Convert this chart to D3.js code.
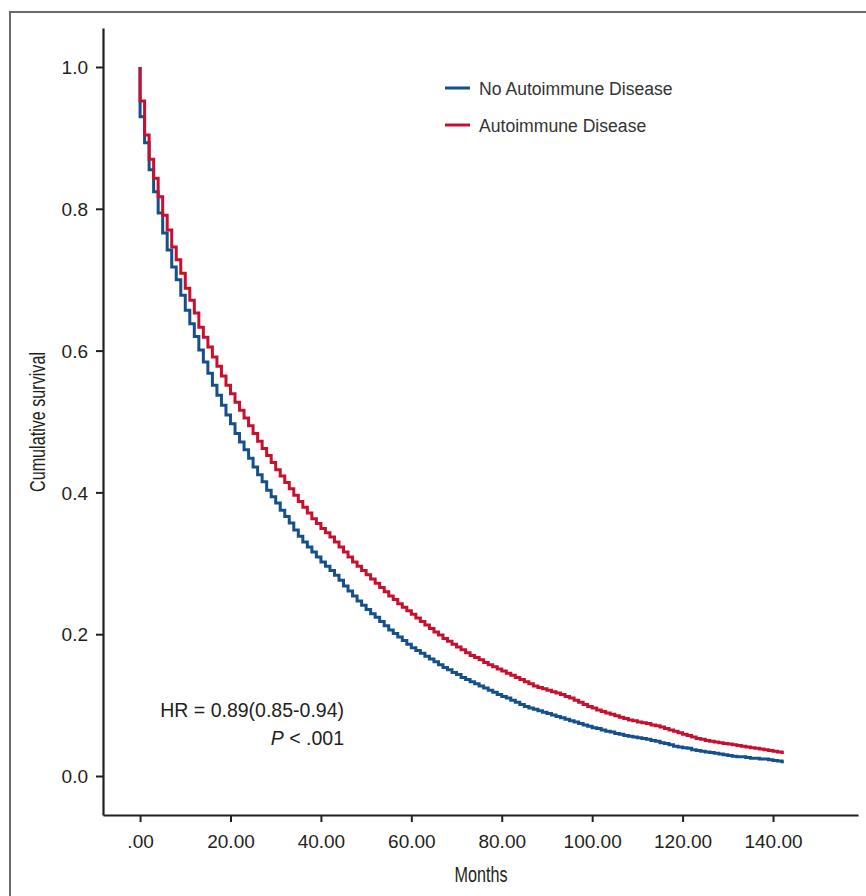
<!DOCTYPE html>
<html>
<head>
<meta charset="utf-8">
<script src="https://cdn.jsdelivr.net/npm/d3@7"></script>
<style>
  html, body { margin: 0; padding: 0; background: #fff; }
  svg { display: block; }
</style>
</head>
<body>
<script>
// ---- Data ----
const seriesNames = ["No Autoimmune Disease", "Autoimmune Disease"];
const seriesColors = ["#15508c", "#c8102e"];
const endMonth = 142.4; // last follow-up time shown

// monthly survival, month 0..142 (value after the step at that month)
const noAutoimmune = [
  0.930, 0.893, 0.855, 0.824, 0.794, 0.766, 0.742, 0.718, 0.700, 0.678,
  0.657, 0.638, 0.620, 0.601, 0.584, 0.568, 0.551, 0.537, 0.523, 0.509,
  0.497, 0.483, 0.471, 0.460, 0.448, 0.436, 0.425, 0.415, 0.403, 0.394,
  0.385, 0.375, 0.366, 0.357, 0.347, 0.338, 0.330, 0.323, 0.316, 0.309,
  0.302, 0.296, 0.290, 0.283, 0.276, 0.268, 0.261, 0.254, 0.247, 0.241,
  0.235, 0.229, 0.224, 0.218, 0.212, 0.206, 0.201, 0.196, 0.191, 0.186,
  0.181, 0.177, 0.173, 0.169, 0.165, 0.161, 0.157, 0.153, 0.150, 0.146,
  0.143, 0.139, 0.136, 0.133, 0.130, 0.127, 0.124, 0.121, 0.118, 0.115,
  0.112, 0.110, 0.107, 0.104, 0.101, 0.098, 0.096, 0.094, 0.092, 0.090,
  0.088, 0.086, 0.084, 0.082, 0.080, 0.078, 0.076, 0.074, 0.072, 0.070,
  0.068, 0.067, 0.065, 0.063, 0.062, 0.060, 0.059, 0.057, 0.056, 0.055,
  0.054, 0.053, 0.052, 0.050, 0.049, 0.047, 0.046, 0.044, 0.042, 0.041,
  0.040, 0.039, 0.037, 0.036, 0.035, 0.034, 0.033, 0.032, 0.031, 0.030,
  0.029, 0.028, 0.027, 0.027, 0.026, 0.025, 0.025, 0.024, 0.024, 0.023,
  0.022, 0.021, 0.020
];
const autoimmune = [
  0.952, 0.904, 0.870, 0.843, 0.817, 0.791, 0.770, 0.746, 0.728, 0.709,
  0.688, 0.671, 0.653, 0.633, 0.619, 0.605, 0.591, 0.578, 0.564, 0.551,
  0.539, 0.527, 0.516, 0.505, 0.494, 0.483, 0.472, 0.462, 0.452, 0.442,
  0.432, 0.423, 0.414, 0.405, 0.396, 0.387, 0.379, 0.371, 0.363, 0.356,
  0.349, 0.343, 0.337, 0.330, 0.323, 0.316, 0.309, 0.302, 0.296, 0.290,
  0.284, 0.278, 0.272, 0.266, 0.260, 0.254, 0.249, 0.243, 0.238, 0.233,
  0.228, 0.223, 0.218, 0.213, 0.208, 0.203, 0.199, 0.194, 0.190, 0.186,
  0.182, 0.178, 0.174, 0.170, 0.167, 0.164, 0.160, 0.157, 0.154, 0.151,
  0.148, 0.145, 0.142, 0.139, 0.136, 0.133, 0.130, 0.127, 0.125, 0.123,
  0.121, 0.119, 0.117, 0.115, 0.112, 0.110, 0.107, 0.104, 0.101, 0.098,
  0.096, 0.093, 0.091, 0.089, 0.087, 0.085, 0.083, 0.081, 0.079, 0.078,
  0.076, 0.075, 0.074, 0.072, 0.071, 0.069, 0.067, 0.065, 0.063, 0.061,
  0.059, 0.057, 0.055, 0.053, 0.052, 0.050, 0.049, 0.048, 0.047, 0.046,
  0.045, 0.044, 0.043, 0.042, 0.041, 0.040, 0.039, 0.038, 0.037, 0.036,
  0.035, 0.034, 0.033
];
const xTicks = [0, 20, 40, 60, 80, 100, 120, 140];
const xTickLabels = [".00", "20.00", "40.00", "60.00", "80.00", "100.00", "120.00", "140.00"];
const yTicks = [0, 0.2, 0.4, 0.6, 0.8, 1.0];
const yTickLabels = ["0.0", "0.2", "0.4", "0.6", "0.8", "1.0"];
const hrText = "HR = 0.89(0.85-0.94)";

// ---- Layout ----
const W = 866, H = 896;
const svg = d3.select("body").append("svg").attr("width", W).attr("height", H);

const x = d3.scaleLinear().domain([-8.2, 158.8]).range([103, 858]);
const y = d3.scaleLinear().domain([-0.055, 1.055]).range([815, 28]);

const ink = "#231f20";
const font = "'Liberation Sans', Arial, Helvetica, sans-serif";
const narrow = "'Liberation Sans Narrow', 'Arial Narrow', 'Liberation Sans', sans-serif";

// outer frame
svg.append("path")
  .attr("d", `M10,${H} L10,12 L${W},12`)
  .attr("fill", "none").attr("stroke", "#6a6a6a").attr("stroke-width", 2);

// x axis
const xAxis = svg.append("g").attr("transform", `translate(0,815)`)
  .call(d3.axisBottom(x).tickValues(xTicks).tickSize(7).tickSizeOuter(0)
    .tickFormat((d, i) => xTickLabels[i]));
xAxis.select(".domain").attr("stroke", ink).attr("stroke-width", 2.2);
xAxis.selectAll(".tick line").attr("stroke", ink).attr("stroke-width", 2);
xAxis.selectAll(".tick text").attr("fill", ink).attr("font-family", font)
  .attr("font-size", 19).attr("dy", 0).attr("y", 33);

// y axis
const yAxis = svg.append("g").attr("transform", `translate(103,0)`)
  .call(d3.axisLeft(y).tickValues(yTicks).tickSize(7).tickSizeOuter(0)
    .tickFormat((d, i) => yTickLabels[i]));
yAxis.select(".domain").attr("stroke", ink).attr("stroke-width", 2.2);
yAxis.selectAll(".tick line").attr("stroke", ink).attr("stroke-width", 2);
yAxis.selectAll(".tick text").attr("fill", ink).attr("font-family", font)
  .attr("font-size", 19).attr("x", -15).attr("dy", "0.35em");

// axis titles
svg.append("text")
  .attr("transform", `translate(44.5,422) rotate(-90)`)
  .attr("text-anchor", "middle")
  .attr("font-family", narrow)
  .attr("font-size", 22).attr("fill", ink)
  .attr("textLength", 140).attr("lengthAdjust", "spacingAndGlyphs")
  .text("Cumulative survival");
svg.append("text")
  .attr("x", 481).attr("y", 882)
  .attr("text-anchor", "middle")
  .attr("font-family", narrow)
  .attr("font-size", 22).attr("fill", ink)
  .attr("textLength", 53).attr("lengthAdjust", "spacingAndGlyphs")
  .text("Months");

// curves
const line = d3.line()
  .x(d => x(d[0])).y(d => y(d[1]))
  .curve(d3.curveStepAfter);
function pts(vals) {
  const p = [[0, 1.0]];
  vals.forEach((v, i) => p.push([i, v]));
  p.push([endMonth, vals[vals.length - 1]]);
  return p;
}
[noAutoimmune, autoimmune].forEach((vals, k) => {
  svg.append("path")
    .attr("d", line(pts(vals)))
    .attr("fill", "none")
    .attr("stroke", seriesColors[k])
    .attr("stroke-width", 3)
    .attr("stroke-linejoin", "miter");
});

// legend
const legY = [88, 125];
seriesNames.forEach((name, k) => {
  svg.append("line")
    .attr("x1", 445).attr("x2", 470).attr("y1", legY[k]).attr("y2", legY[k])
    .attr("stroke", seriesColors[k]).attr("stroke-width", 3);
  svg.append("text")
    .attr("x", 479).attr("y", legY[k] + 6.5)
    .attr("font-family", font).attr("font-size", 17.6).attr("fill", "#333")
    .text(name);
});

// annotation
svg.append("text")
  .attr("x", 344).attr("y", 717).attr("text-anchor", "end")
  .attr("font-family", font).attr("font-size", 19.5).attr("fill", ink)
  .text(hrText);
const pt = svg.append("text")
  .attr("x", 344).attr("y", 745).attr("text-anchor", "end")
  .attr("font-family", font).attr("font-size", 19.5).attr("fill", ink);
pt.append("tspan").attr("font-style", "italic").text("P");
pt.append("tspan").text(" < .001");
</script>
</body>
</html>
